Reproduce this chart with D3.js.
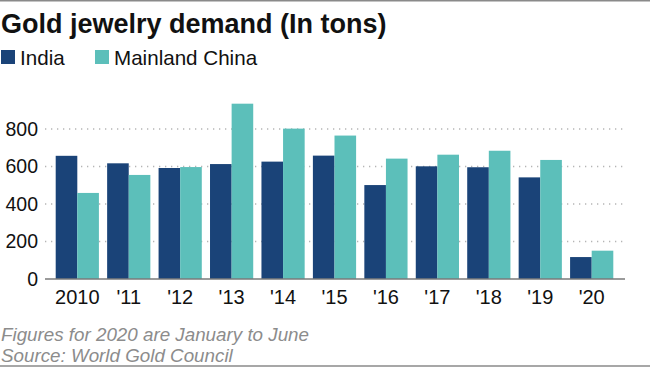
<!DOCTYPE html>
<html>
<head>
<meta charset="utf-8">
<script src="https://cdn.jsdelivr.net/npm/d3@7"></script>
<style>
  body { margin: 0; background: #fff; }
  svg { display: block; font-family: Arial, "Liberation Sans", sans-serif; }
</style>
</head>
<body>
<div id="chart"></div>
<script>
// Gold jewelry demand, tons
const years = ["2010", "'11", "'12", "'13", "'14", "'15", "'16", "'17", "'18", "'19", "'20"];
const india = [657, 617, 592, 613, 626, 658, 501, 601, 596, 542, 117];
const china = [459, 555, 597, 935, 802, 765, 642, 663, 684, 635, 151];
const seriesNames = ["India", "Mainland China"];
const yTicks = [0, 200, 400, 600, 800];

const colors = { "India": "#1a4378", "Mainland China": "#5cbfba" };

const width = 650, height = 367;

const svg = d3.select("#chart").append("svg")
    .attr("width", width)
    .attr("height", height);

// frame lines top and bottom
svg.append("line")
    .attr("x1", 0).attr("x2", width).attr("y1", 0.5).attr("y2", 0.5)
    .attr("stroke", "#8a8a8a").attr("stroke-width", 2);
svg.append("line")
    .attr("x1", 0).attr("x2", width).attr("y1", 366).attr("y2", 366)
    .attr("stroke", "#8a8a8a").attr("stroke-width", 1.5);

// title
svg.append("text")
    .attr("x", 1)
    .attr("y", 33)
    .style("font-size", "27px")
    .style("font-weight", "bold")
    .attr("fill", "#111")
    .text("Gold jewelry demand (In tons)");

// legend
const legendX = [1, 95];
const legend = svg.selectAll(".legend")
    .data(seriesNames)
    .enter().append("g")
    .attr("class", "legend")
    .attr("transform", (d, i) => `translate(${legendX[i]},0)`);

legend.append("rect")
    .attr("x", 0).attr("y", 50)
    .attr("width", 14).attr("height", 14)
    .attr("fill", d => colors[d]);

legend.append("text")
    .attr("x", 19)
    .attr("y", 64.5)
    .style("font-size", "20.6px")
    .attr("fill", "#111")
    .text(d => d);

// scales
const x0 = d3.scaleBand()
    .domain(years)
    .range([45, 624])
    .paddingInner(0.16)
    .paddingOuter(0.208);

const x1 = d3.scaleBand()
    .domain(seriesNames)
    .range([0, x0.bandwidth()]);

const y = d3.scaleLinear()
    .domain([0, 800])
    .range([279, 129]);

// gridlines
svg.append("g")
    .selectAll("line")
    .data(yTicks.filter(d => d > 0))
    .enter().append("line")
    .attr("x1", 45).attr("x2", 625)
    .attr("y1", d => y(d)).attr("y2", d => y(d))
    .attr("stroke", "#b5b5b5")
    .attr("stroke-width", 1.3)
    .attr("stroke-dasharray", "1.3,4.7");

// y axis labels
svg.append("g")
    .selectAll("text")
    .data(yTicks)
    .enter().append("text")
    .attr("x", 38)
    .attr("y", d => y(d))
    .attr("dy", "0.35em")
    .attr("text-anchor", "end")
    .style("font-size", "19.5px")
    .attr("fill", "#111")
    .text(d => d);

// bars
const rows = years.map((yr, i) => ({ year: yr, values: [india[i], china[i]] }));

const groups = svg.selectAll(".group")
    .data(rows)
    .enter().append("g")
    .attr("class", "group")
    .attr("transform", d => `translate(${x0(d.year)},0)`);

groups.selectAll("rect")
    .data(d => seriesNames.map((s, j) => ({ key: s, value: d.values[j] })))
    .enter().append("rect")
    .attr("x", d => x1(d.key))
    .attr("y", d => y(d.value))
    .attr("width", x1.bandwidth())
    .attr("height", d => y(0) - y(d.value))
    .attr("fill", d => colors[d.key]);

// baseline
svg.append("line")
    .attr("x1", 45).attr("x2", 625)
    .attr("y1", y(0)).attr("y2", y(0))
    .attr("stroke", "#7a7a7a")
    .attr("stroke-width", 1.3);

// x axis labels
svg.append("g")
    .selectAll("text")
    .data(years)
    .enter().append("text")
    .attr("x", d => x0(d) + x0.bandwidth() / 2)
    .attr("y", 304)
    .attr("text-anchor", "middle")
    .style("font-size", "20px")
    .attr("fill", "#111")
    .text(d => d);

// notes
svg.append("text")
    .attr("x", 1)
    .attr("y", 340.5)
    .style("font-size", "18.8px")
    .style("font-style", "italic")
    .attr("fill", "#8c8c8c")
    .text("Figures for 2020 are January to June");

svg.append("text")
    .attr("x", 1)
    .attr("y", 361.5)
    .style("font-size", "18.8px")
    .style("font-style", "italic")
    .attr("fill", "#8c8c8c")
    .text("Source: World Gold Council");
</script>
</body>
</html>
